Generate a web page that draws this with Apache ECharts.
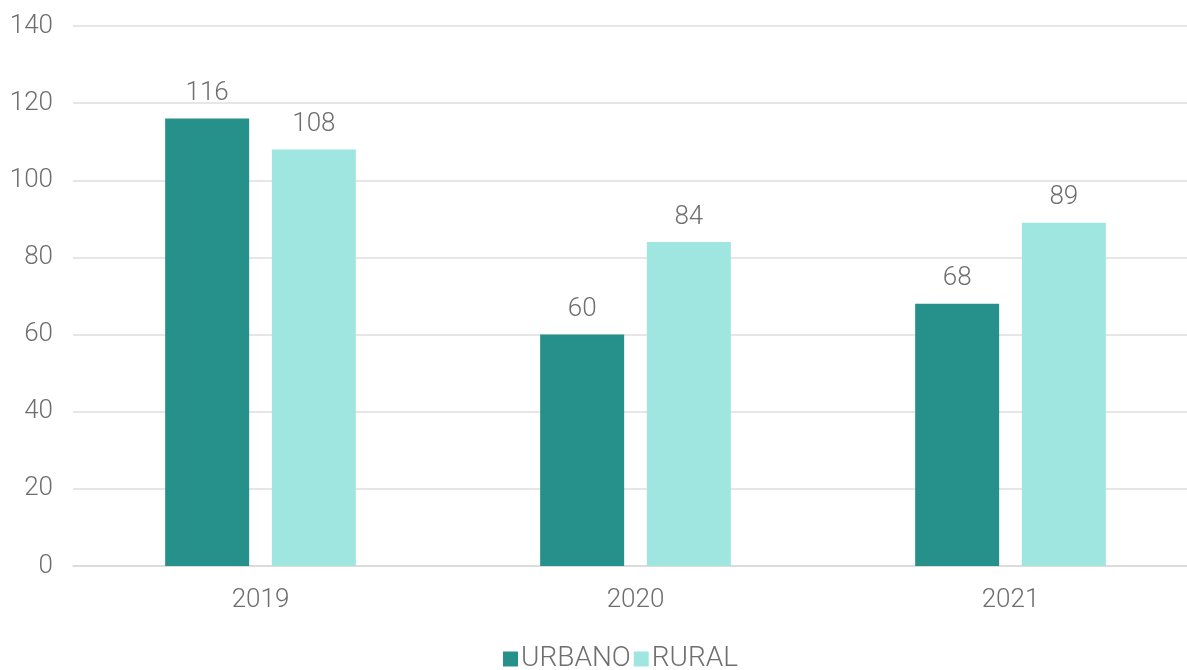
<!DOCTYPE html>
<html>
<head>
<meta charset="utf-8">
<script src="https://cdn.jsdelivr.net/npm/echarts@6/dist/echarts.min.js"></script>
<style>
  html, body { margin: 0; padding: 0; background: #fff; overflow: hidden; }
  #chart { width: 1198px; height: 670px; }
</style>
</head>
<body>
<div id="chart"></div>
<script>
// data
const years = ['2019', '2020', '2021']
const urbano = [116, 60, 68]
const rural = [108, 84, 89]
const yTicks = [0, 20, 40, 60, 80, 100, 120, 140]

const textColor = '#6e6e6e'
const font = 'Roboto'
const weight = 300
const size = 26

// the plot runs slightly past the right edge of the picture, so the canvas is a bit wider than the window
const chart = echarts.init(document.getElementById('chart'))
chart.setOption({
  animation: false,
  textStyle: { fontFamily: font, fontWeight: weight },
  legend: {
    bottom: -8,
    left: 498,
    itemWidth: 15,
    itemHeight: 15,
    itemGap: 3,
    icon: 'rect',
    textStyle: { fontSize: 28, color: textColor, fontFamily: font, fontWeight: weight, padding: [0, 0, 0, -2] },
    data: ['URBANO', 'RURAL']
  },
  grid: {
    left: 73,
    top: 26,
    right: 0,
    height: 540
  },
  xAxis: {
    type: 'category',
    data: years,
    axisTick: { show: false },
    axisLine: { lineStyle: { color: '#d9d9d9', width: 1.5 } },
    axisLabel: { fontSize: size, color: textColor, fontWeight: weight, margin: 21 }
  },
  yAxis: {
    type: 'value',
    min: yTicks[0],
    max: yTicks[yTicks.length - 1],
    interval: 20,
    axisLine: { show: false },
    axisTick: { show: false },
    splitLine: { lineStyle: { color: '#dedede', width: 1.5 } },
    axisLabel: { fontSize: size, color: textColor, fontWeight: weight, margin: 20 }
  },
  series: [
    {
      name: 'URBANO',
      type: 'bar',
      data: urbano,
      barWidth: 84,
      barGap: '27%',
      itemStyle: { color: '#25918a' },
      label: { show: true, position: 'top', distance: 12, fontSize: size, fontWeight: weight, color: textColor }
    },
    {
      name: 'RURAL',
      type: 'bar',
      data: rural,
      barWidth: 84,
      itemStyle: { color: '#a0e6e0' },
      label: { show: true, position: 'top', distance: 12, fontSize: size, fontWeight: weight, color: textColor }
    }
  ]
})
</script>
</body>
</html>
